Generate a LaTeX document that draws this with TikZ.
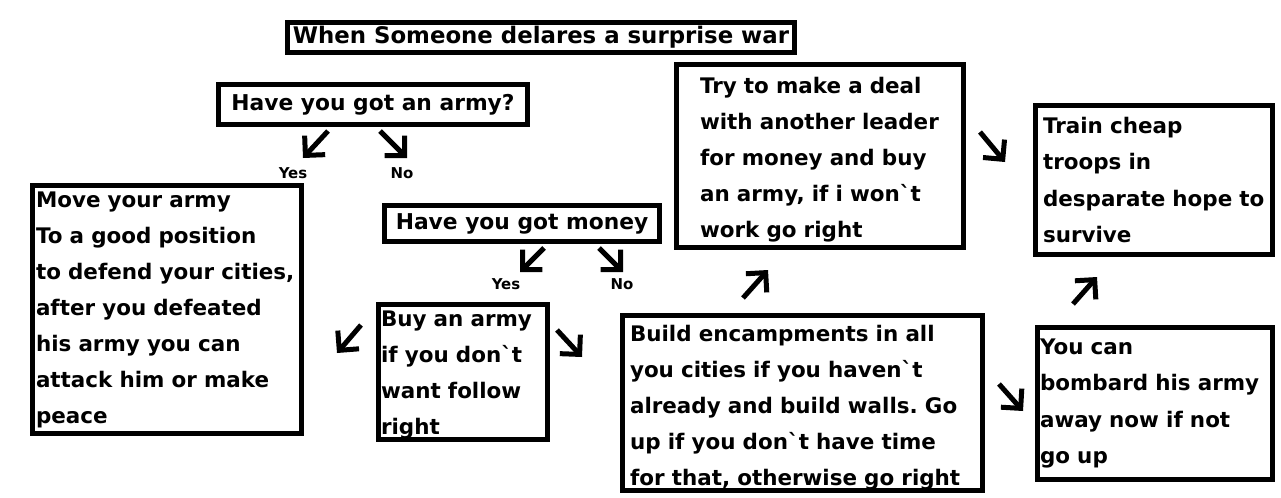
\documentclass[tikz,border=0pt]{standalone}
\usepackage{fontspec}
\setmainfont{DejaVu Sans}
\usetikzlibrary{arrows.meta}
\newcommand{\bt}{\textasciigrave}
\newcommand{\lift}[1]{\rule{0pt}{#1}}
\frenchspacing
\tikzset{
  card/.style={draw=black, line width=0.1cm, align=left, inner sep=0pt, font=\bfseries\fontsize{12.2}{20.5}\selectfont},
  ask/.style={draw=black, line width=0.1cm, align=center, inner sep=0pt, font=\bfseries\fontsize{12.4}{14}\selectfont},
  answer/.style={font=\bfseries\fontsize{8.5}{9}\selectfont},
  paintarrow/.style={-{Straight Barb[length=2.8mm, angle'=90]}, line width=0.1cm},
}

\begin{document}
\begin{tikzpicture}[x=0.02cm, y=-0.02cm]
  \useasboundingbox (0,0) rectangle (1281,497);
  \node[ask, minimum width=10.14cm, minimum height=0.62cm, font=\bfseries\fontsize{13}{14}\selectfont] (title) at (541,37.5) {When Someone delares a surprise war};
  \node[ask, minimum width=6.18cm, minimum height=0.80cm] (army) at (373,104.5) {Have you got an army?};
  \node[ask, minimum width=5.50cm, minimum height=0.72cm] (money) at (522,223.5) {Have you got money};
  % answers
  \node[card, minimum width=5.38cm, minimum height=4.96cm, text width=5.24cm] (move) at (167,309.5)
    {Move your army\\To a good position\\to defend your cities,\\after you defeated\\his army you can\\attack him or make\\peace};
  \node[card, minimum width=3.38cm, minimum height=2.70cm, text width=3.28cm] (buy) at (463,372)
    {\lift{12pt}Buy an army\\if you don\bt t\\want follow\\right};
  \node[card, minimum width=7.20cm, minimum height=3.50cm, text width=6.90cm] (build) at (802.5,403)
    {\lift{15pt}Build encampments in all\\you cities if you haven\bt t\\already and build walls. Go\\up if you don\bt t have time\\for that, otherwise go right};
  \node[card, minimum width=5.74cm, minimum height=3.66cm, text width=4.80cm] (deal) at (820,156)
    {\lift{13.8pt}Try to make a deal\\with another leader\\for money and buy\\an army, if i won\bt t\\work go right};
  \node[card, minimum width=4.74cm, minimum height=2.98cm, text width=4.44cm] (train) at (1154,180)
    {Train cheap\\troops in\\desparate hope to\\survive};
  \node[card, minimum width=4.70cm, minimum height=3.04cm, text width=4.60cm] (bombard) at (1155,403.5)
    {You can\\bombard his army\\away now if not\\go up};
  \node[answer] (armyyes) at (293,173) {Yes};
  \node[answer] (armyno) at (402,173) {No};
  \node[answer] (moneyyes) at (506,284) {Yes};
  \node[answer] (moneyno) at (622,284) {No};
  % arrow ends
  \coordinate (a1) at (328,131);  \coordinate (b1) at (303,158);
  \coordinate (a2) at (380,131);  \coordinate (b2) at (407,158);
  \coordinate (a3) at (544,248);  \coordinate (b3) at (520,272);
  \coordinate (a4) at (599,248);  \coordinate (b4) at (623,272);
  \coordinate (a5) at (361,325);  \coordinate (b5) at (337,353);
  \coordinate (a6) at (557,330);  \coordinate (b6) at (582,357);
  \coordinate (a7) at (743,298);  \coordinate (b7) at (768,270);
  \coordinate (a8) at (980,132);  \coordinate (b8) at (1005,162);
  \coordinate (a9) at (999,384);  \coordinate (b9) at (1023,411);
  \coordinate (a10) at (1073,304); \coordinate (b10) at (1097,277);
  \draw[paintarrow] (a1) -- (b1);
  \draw[paintarrow] (a2) -- (b2);
  \draw[paintarrow] (a3) -- (b3);
  \draw[paintarrow] (a4) -- (b4);
  \draw[paintarrow] (a5) -- (b5);
  \draw[paintarrow] (a6) -- (b6);
  \draw[paintarrow] (a7) -- (b7);
  \draw[paintarrow] (a8) -- (b8);
  \draw[paintarrow] (a9) -- (b9);
  \draw[paintarrow] (a10) -- (b10);
\end{tikzpicture}
\end{document}
